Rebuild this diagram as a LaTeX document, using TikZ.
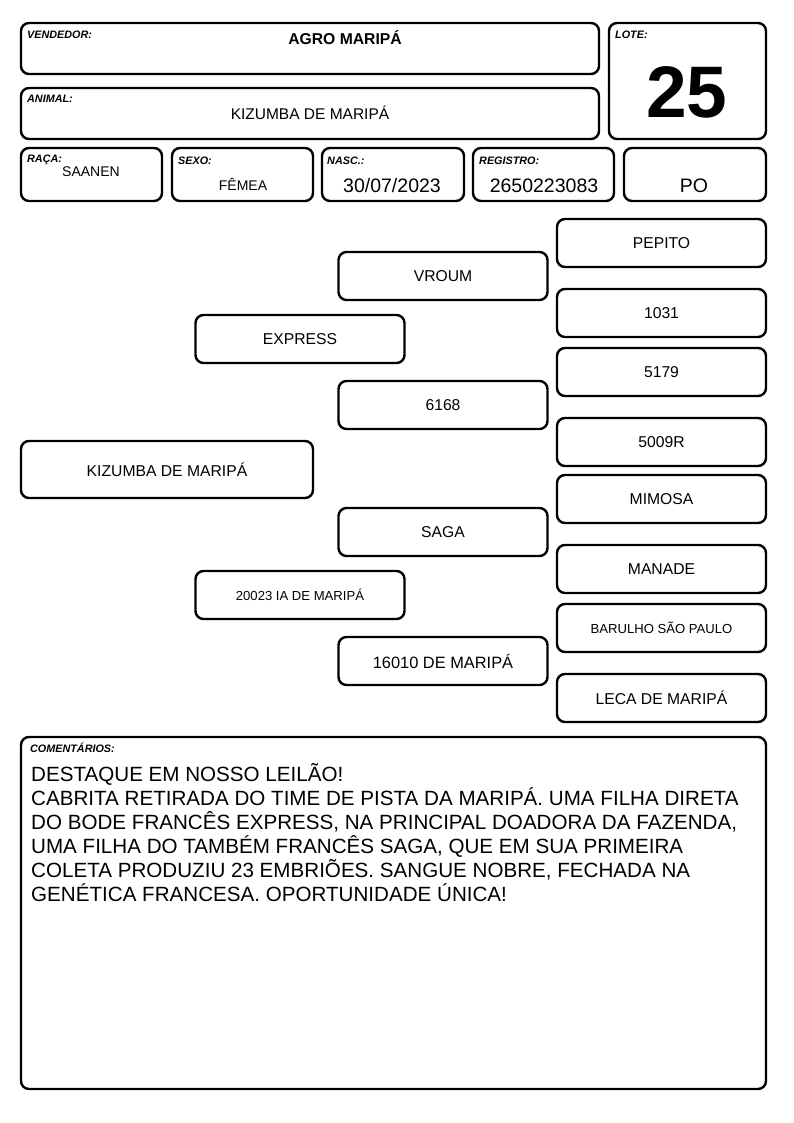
\documentclass[tikz,border=0pt]{standalone}
\usepackage{fontspec}
\setmainfont{Liberation Sans}
\begin{document}
\begin{tikzpicture}[x=1pt,y=-1pt,
  box/.style={draw=black, line width=2.4pt, rounded corners=8pt, inner sep=0pt},
  lbl/.style={font=\fontsize{10.8}{11}\selectfont\bfseries\itshape, anchor=north west, inner sep=0pt},
  val/.style={font=\fontsize{15.5}{17}\selectfont, inner sep=0pt},
  big/.style={val, font=\fontsize{19.5}{21}\selectfont},
  ped/.style={box, minimum width=209pt, minimum height=48pt, font=\fontsize{15.7}{17}\selectfont},
  pedsm/.style={ped, font=\fontsize{13.1}{14}\selectfont}
]
\useasboundingbox[fill=white] (0,0) rectangle (794,1123);
% header boxes
\node[box, minimum width=578pt, minimum height=51pt] (vend) at (310,48.5) {};
\node[lbl] (vendl) at (27,31) {VENDEDOR:};
\node[val, font=\fontsize{15.7}{17}\selectfont\bfseries] (vendv) at (345,38) {AGRO MARIPÁ};

\node[box, minimum width=578pt, minimum height=51pt] (anim) at (310,113.5) {};
\node[lbl] (animl) at (27,95) {ANIMAL:};
\node[val] (animv) at (310,113) {KIZUMBA DE MARIPÁ};

\node[box, minimum width=157pt, minimum height=116pt] (lote) at (687.5,81) {};
\node[lbl] (lotel) at (615,31) {LOTE:};
\node[val, font=\fontsize{73}{80}\selectfont\bfseries] (lotev) at (687,92) {25};

\node[box, minimum width=141pt, minimum height=53pt] (raca) at (91.5,174.5) {};
\node[lbl] (racal) at (27,155) {RAÇA:};
\node[val, font=\fontsize{14}{16}\selectfont] (racav) at (91,172) {SAANEN};

\node[box, minimum width=141pt, minimum height=53pt] (sexo) at (242.5,174.5) {};
\node[lbl] (sexol) at (178,157) {SEXO:};
\node[val, font=\fontsize{14}{16}\selectfont] (sexov) at (243,184) {FÊMEA};

\node[box, minimum width=142pt, minimum height=53pt] (nasc) at (393,174.5) {};
\node[lbl] (nascl) at (327,157) {NASC.:};
\node[big] (nascv) at (392,186) {30/07/2023};

\node[box, minimum width=141pt, minimum height=53pt] (reg) at (543.5,174.5) {};
\node[lbl] (regl) at (479,157) {REGISTRO:};
\node[big] (regv) at (544,186) {2650223083};

\node[box, minimum width=142pt, minimum height=53pt] (po) at (695,174.5) {};
\node[big] (pov) at (694,186) {PO};

% pedigree
\node[ped] (pepito) at (661.5,243) {PEPITO};
\node[ped] (vroum) at (443,276) {VROUM};
\node[ped] (n1031) at (661.5,313) {1031};
\node[ped] (express) at (300,339) {EXPRESS};
\node[ped] (n5179) at (661.5,372) {5179};
\node[ped] (n6168) at (443,405) {6168};
\node[ped] (n5009) at (661.5,442) {5009R};
\node[ped, minimum width=292pt, minimum height=57pt] (kiz) at (167,469.5) {KIZUMBA DE MARIPÁ};
\node[ped] (mimosa) at (661.5,499) {MIMOSA};
\node[ped] (saga) at (443,532) {SAGA};
\node[ped] (manade) at (661.5,569) {MANADE};
\node[pedsm] (n20023) at (300,595) {20023 IA DE MARIPÁ};
\node[pedsm] (barulho) at (661.5,628) {BARULHO SÃO PAULO};
\node[ped, font=\fontsize{16.4}{18}\selectfont] (n16010) at (443,661) {16010 DE MARIPÁ};
\node[ped] (leca) at (661.5,698) {LECA DE MARIPÁ};

% comments
\node[box, minimum width=745pt, minimum height=352pt] (com) at (393.5,913) {};
\node[lbl] (coml) at (30,743) {COMENTÁRIOS:};
\node[anchor=north west, inner sep=0pt, align=left, font=\fontsize{20.6}{24}\selectfont] (comv) at (31,763) {DESTAQUE EM NOSSO LEILÃO!\\
CABRITA RETIRADA DO TIME DE PISTA DA MARIPÁ. UMA FILHA DIRETA\\
DO BODE FRANCÊS EXPRESS, NA PRINCIPAL DOADORA DA FAZENDA,\\
UMA FILHA DO TAMBÉM FRANCÊS SAGA, QUE EM SUA PRIMEIRA\\
COLETA PRODUZIU 23 EMBRIÕES. SANGUE NOBRE, FECHADA NA\\
GENÉTICA FRANCESA. OPORTUNIDADE ÚNICA!};
\end{tikzpicture}
\end{document}
